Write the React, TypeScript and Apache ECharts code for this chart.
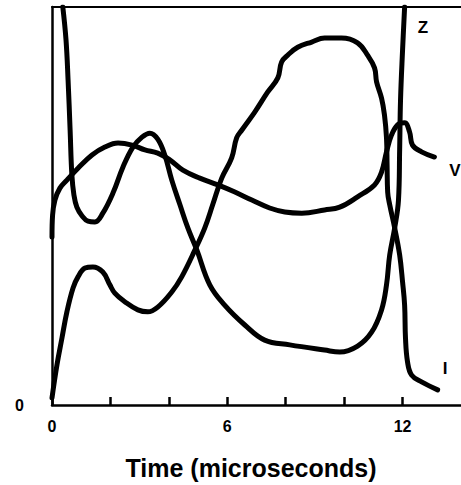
import React, { useEffect, useRef } from "react";
import * as echarts from "echarts";

// Time (microseconds) and relative amplitude (0–100)
const zTime = [0.37, 0.48, 0.55, 0.62, 0.68, 0.75, 0.85, 1.03, 1.23, 1.47, 1.74, 2.09, 2.43, 2.77, 3.08, 3.35, 3.62, 3.86, 4.1, 4.38, 4.65, 4.96, 5.4, 5.91, 6.6, 7.28, 8.14, 9.33, 9.85, 10.46, 10.94, 11.28, 11.45, 11.56, 11.73, 11.86, 11.9, 11.93, 12.0, 12.07];
const zValue = [100, 91.7, 81.7, 69.1, 57.8, 52.8, 49.7, 47.5, 46.2, 46.0, 48.2, 53.3, 59.8, 64.8, 67.3, 68.3, 66.8, 62.8, 56.5, 50.3, 44.5, 38.9, 30.2, 25.1, 20.1, 16.3, 15.1, 13.8, 13.3, 14.8, 18.3, 23.9, 30.2, 37.7, 44.5, 51.5, 64.1, 76.6, 89.2, 100];

const iTime = [0, 0.17, 0.34, 0.51, 0.72, 0.89, 1.13, 1.4, 1.74, 1.98, 2.15, 2.5, 2.94, 3.28, 3.62, 4.1, 4.44, 4.89, 5.23, 5.5, 5.81, 6.15, 6.32, 6.5, 6.94, 7.38, 7.73, 7.86, 8.07, 8.41, 8.89, 9.33, 9.91, 10.46, 10.8, 11.04, 11.11, 11.28, 11.38, 11.45, 11.47, 11.49, 11.56, 11.73, 11.9, 12.0, 12.07, 12.1, 12.17, 12.31, 12.65, 13.2];
const iValue = [1.8, 10.1, 16.8, 23.4, 29.4, 32.2, 34.4, 34.7, 33.4, 30.2, 28.1, 25.9, 23.9, 23.4, 24.6, 28.4, 32.2, 38.9, 44.5, 50.3, 57.0, 62.1, 67.1, 69.1, 73.6, 78.6, 82.2, 86.2, 87.9, 89.9, 91.2, 92.2, 92.2, 91.0, 87.9, 84.7, 81.2, 77.1, 72.9, 67.1, 60.3, 53.5, 50.3, 44.5, 37.7, 30.9, 25.1, 16.8, 10.8, 7.5, 5.8, 3.8];

const vTime = [0, 0.02, 0.1, 0.27, 0.51, 0.89, 1.37, 1.81, 2.26, 2.74, 3.18, 3.62, 4.03, 4.48, 5.06, 5.68, 6.26, 6.84, 7.45, 7.97, 8.55, 9.33, 9.85, 10.46, 11.04, 11.28, 11.45, 11.62, 11.83, 12.07, 12.24, 12.34, 12.65, 13.09];
const vValue = [42.2, 47.7, 51.5, 54.5, 56.5, 59.5, 62.8, 64.8, 65.8, 65.3, 64.1, 63.3, 61.6, 59.0, 57.0, 55.3, 53.5, 51.5, 49.5, 48.5, 48.2, 49.0, 49.7, 52.3, 55.3, 58.5, 63.6, 67.8, 70.4, 70.9, 68.6, 65.3, 63.6, 62.3];

const xTickLabels = ["0", "6", "12"];
const yTickLabels = ["0"];
const seriesNames = ["Z", "V", "I"];
const axisTitle = "Time (microseconds)";

const FONT = "'Liberation Sans', Arial, Helvetica, sans-serif";

function pairs(xs: number[], ys: number[]) {
  return xs.map((x, i) => [x, ys[i]]);
}

export default function App() {
  const ref = useRef<HTMLDivElement>(null);
  useEffect(() => {
    if (!ref.current) return;
    const chart = echarts.init(ref.current, undefined, { renderer: "svg" });
    const line = {
      type: "line" as const,
      smooth: 0.4,
      showSymbol: false,
      symbol: "none",
      clip: true,
      lineStyle: { color: "#000", width: 5, cap: "round", join: "round" },
    };
    chart.setOption({
      animation: false,
      backgroundColor: "#fff",
      grid: { left: 52, top: 7, right: 0, bottom: 80, containLabel: false },
      xAxis: [
        {
          type: "value",
          min: 0,
          max: 14,
          interval: 2,
          position: "bottom",
          axisLine: { show: true, lineStyle: { color: "#000", width: 2.5 } },
          axisTick: { show: true, inside: true, length: 8, lineStyle: { color: "#000", width: 2.5 } },
          splitLine: { show: false },
          axisLabel: {
            show: true,
            margin: 13,
            showMaxLabel: false,
            color: "#000",
            fontFamily: FONT,
            fontWeight: "bold",
            fontSize: 16,
            formatter: (v: number) => (xTickLabels.includes(String(v)) ? String(v) : ""),
          },
        },
        {
          type: "value",
          min: 0,
          max: 14,
          position: "top",
          axisLine: { show: true, lineStyle: { color: "#000", width: 2 } },
          axisTick: { show: false },
          axisLabel: { show: false },
          splitLine: { show: false },
        },
      ],
      yAxis: {
        type: "value",
        min: 0,
        max: 100,
        interval: 100,
        axisLine: { show: true, lineStyle: { color: "#000", width: 2.5 } },
        axisTick: { show: false },
        splitLine: { show: false },
        axisLabel: {
          margin: 28,
          color: "#000",
          fontFamily: FONT,
          fontWeight: "bold",
          fontSize: 16,
          padding: [8, 0, 0, 0],
          formatter: (v: number) => (yTickLabels.includes(String(v)) ? String(v) : ""),
        },
      },
      graphic: [
        {
          type: "text",
          x: 251,
          y: 468,
          style: {
            text: axisTitle,
            fill: "#000",
            font: `bold 25px ${FONT}`,
            textAlign: "center",
            textVerticalAlign: "middle",
          },
        },
        {
          type: "text",
          x: 423,
          y: 27,
          style: { text: seriesNames[0], fill: "#000", font: `bold 17px ${FONT}`, textAlign: "center", textVerticalAlign: "middle" },
        },
        {
          type: "text",
          x: 455,
          y: 170,
          style: { text: seriesNames[1], fill: "#000", font: `bold 17px ${FONT}`, textAlign: "center", textVerticalAlign: "middle" },
        },
        {
          type: "text",
          x: 445,
          y: 368,
          style: { text: seriesNames[2], fill: "#000", font: `bold 17px ${FONT}`, textAlign: "center", textVerticalAlign: "middle" },
        },
      ],
      series: [
        { ...line, name: seriesNames[0], data: pairs(zTime, zValue) },
        { ...line, name: seriesNames[1], data: pairs(vTime, vValue) },
        { ...line, name: seriesNames[2], data: pairs(iTime, iValue) },
      ],
    });
    return () => chart.dispose();
  }, []);
  return (
    <div
      ref={ref}
      style={{ position: "fixed", left: 0, top: 0, width: 461, height: 485, background: "#fff" }}
    />
  );
}
